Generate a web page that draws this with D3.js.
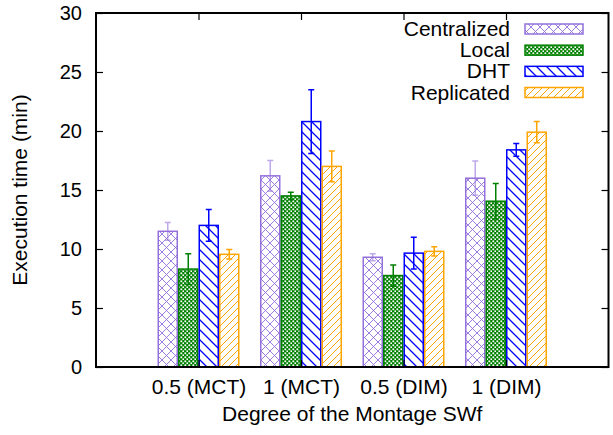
<!DOCTYPE html>
<html>
<head>
<meta charset="utf-8">
<script src="https://cdn.jsdelivr.net/npm/d3@7"></script>
<style>
  html, body { margin: 0; padding: 0; background: #fff; }
  svg { display: block; }
  text { font-family: "Liberation Sans", Arial, Helvetica, sans-serif; fill: #000; }
</style>
</head>
<body>
<svg id="chart" width="613" height="435"></svg>
<script>
// ---- data ----
const categories = ["0.5 (MCT)", "1 (MCT)", "0.5 (DIM)", "1 (DIM)"];
const seriesNames = ["Centralized", "Local", "DHT", "Replicated"];
const centralized = [11.5, 16.2, 9.3, 16.0];
const centralizedErr = [0.75, 1.3, 0.3, 1.45];
const local = [8.3, 14.5, 7.75, 14.05];
const localErr = [1.3, 0.3, 0.9, 1.5];
const dht = [12.0, 20.8, 9.65, 18.4];
const dhtErr = [1.35, 2.7, 1.35, 0.55];
const replicated = [9.55, 17.0, 9.8, 19.9];
const replicatedErr = [0.4, 1.3, 0.4, 0.9];
const yTicks = [0, 5, 10, 15, 20, 25, 30];

const seriesValues = [centralized, local, dht, replicated];
const seriesErrors = [centralizedErr, localErr, dhtErr, replicatedErr];
const colors = ["#9370DB", "#008000", "#0000FF", "#FFA500"];
const patternIds = ["pCentral", "pLocal", "pDHT", "pRepl"];

const svg = d3.select("#chart");
const mLeft = 96, mRight = 608.5, mTop = 13, mBottom = 367;

const x = d3.scaleLinear().domain([-1, 4]).range([mLeft, mRight]);
const y = d3.scaleLinear().domain([0, 30]).range([mBottom, mTop]);

// ---- patterns ----
const defs = svg.append("defs");
// crosshatch
let p = defs.append("pattern").attr("id", "pCentral").attr("patternUnits", "userSpaceOnUse")
  .attr("width", 9).attr("height", 9);
p.append("rect").attr("width", 9).attr("height", 9).attr("fill", "#fff");
p.append("path").attr("d", "M0,0 L9,9 M9,0 L0,9 M-1,8 L1,10 M8,-1 L10,1 M-1,1 L1,-1 M8,10 L10,8")
  .attr("stroke", "#9370DB").attr("stroke-width", 1).attr("stroke-opacity", 0.9);
// dense checker
p = defs.append("pattern").attr("id", "pLocal").attr("patternUnits", "userSpaceOnUse")
  .attr("width", 4).attr("height", 4);
p.append("rect").attr("width", 4).attr("height", 4).attr("fill", "#008000");
p.append("rect").attr("x", 0.4).attr("y", 0.4).attr("width", 1.8).attr("height", 1.8).attr("fill", "#fff");
p.append("rect").attr("x", 2.4).attr("y", 2.4).attr("width", 1.8).attr("height", 1.8).attr("fill", "#fff");
// backslash lines
p = defs.append("pattern").attr("id", "pDHT").attr("patternUnits", "userSpaceOnUse")
  .attr("width", 10).attr("height", 10);
p.append("rect").attr("width", 10).attr("height", 10).attr("fill", "#fff");
p.append("path").attr("d", "M0,0 L10,10 M-1,9 L1,11 M9,-1 L11,1")
  .attr("stroke", "#0000FF").attr("stroke-width", 1.3);
// slash lines
p = defs.append("pattern").attr("id", "pRepl").attr("patternUnits", "userSpaceOnUse")
  .attr("width", 7).attr("height", 7);
p.append("rect").attr("width", 7).attr("height", 7).attr("fill", "#fff");
p.append("path").attr("d", "M0,7 L7,0 M-1,1 L1,-1 M6,8 L8,6")
  .attr("stroke", "#FFA500").attr("stroke-width", 1);

// ---- bars ----
const slot = 0.2;
const barW = (x(slot) - x(0)) - 1.5;
const bars = [];
seriesValues.forEach((vals, s) => {
  vals.forEach((v, g) => {
    bars.push({ s, g, v, e: seriesErrors[s][g], cx: x(g + (s - 1.5) * slot) });
  });
});

svg.append("g").selectAll("rect").data(bars).join("rect")
  .attr("x", d => d.cx - barW / 2)
  .attr("y", d => y(d.v))
  .attr("width", barW)
  .attr("height", d => y(0) - y(d.v))
  .attr("fill", d => `url(#${patternIds[d.s]})`)
  .attr("stroke", d => colors[d.s])
  .attr("stroke-width", 1.5);

// ---- error bars ----
const eg = svg.append("g");
eg.selectAll("path").data(bars).join("path")
  .attr("d", d => {
    const y1 = y(d.v + d.e), y0 = y(d.v - d.e), c = d.cx;
    return `M${c},${y0}V${y1}M${c - 3},${y1}H${c + 3}M${c - 3},${y0}H${c + 3}`;
  })
  .attr("fill", "none")
  .attr("stroke", d => colors[d.s])
  .attr("stroke-opacity", d => d.s === 0 ? 0.6 : 1)
  .attr("stroke-width", 1.5);

// ---- axes ----
const styleAxis = (g, size) => {
  g.select(".domain").remove();
  g.selectAll(".tick line").attr("stroke", "#000").attr("stroke-width", 1.2);
  g.selectAll("text").attr("font-size", size)
    .attr("font-family", '"Liberation Sans", Arial, sans-serif').attr("fill", "#000");
};

svg.append("g").attr("transform", `translate(${mLeft},0)`)
  .call(d3.axisLeft(y).tickValues(yTicks).tickSize(-7).tickPadding(14).tickFormat(d3.format("d")))
  .call(styleAxis, "20px");
svg.append("g").attr("transform", `translate(${mRight},0)`)
  .call(d3.axisRight(y).tickValues(yTicks).tickSize(-7).tickFormat(""))
  .call(styleAxis, "20px");
svg.append("g").attr("transform", `translate(0,${mBottom})`)
  .call(d3.axisBottom(x).tickValues([0, 1, 2, 3]).tickSize(-7).tickPadding(12).tickFormat(i => categories[i]))
  .call(styleAxis, "21px");
svg.append("g").attr("transform", `translate(0,${mTop})`)
  .call(d3.axisTop(x).tickValues([0, 1, 2, 3]).tickSize(-7).tickFormat(""))
  .call(styleAxis, "20px");

// border
svg.append("rect")
  .attr("x", mLeft).attr("y", mTop)
  .attr("width", mRight - mLeft).attr("height", mBottom - mTop)
  .attr("fill", "none").attr("stroke", "#000").attr("stroke-width", 2);

// axis titles
svg.append("text")
  .attr("x", (mLeft + mRight) / 2).attr("y", 421)
  .attr("text-anchor", "middle").attr("font-size", "21px")
  .text("Degree of the Montage SWf");
svg.append("text")
  .attr("transform", `translate(27,${(mTop + mBottom) / 2}) rotate(-90)`)
  .attr("text-anchor", "middle").attr("font-size", "21px")
  .text("Execution time (min)");

// ---- legend ----
const legend = svg.append("g");
const rowY = d3.scaleLinear().domain([0, 3]).range([29, 92.5]);
seriesNames.forEach((name, s) => {
  const cy = rowY(s);
  legend.append("text")
    .attr("x", 510).attr("y", cy + 7)
    .attr("text-anchor", "end").attr("font-size", "21px")
    .text(name);
  legend.append("rect")
    .attr("x", 525).attr("y", cy - 5).attr("width", 58).attr("height", 10)
    .attr("fill", `url(#${patternIds[s]})`)
    .attr("stroke", colors[s]).attr("stroke-width", 1.5);
});
</script>
</body>
</html>
